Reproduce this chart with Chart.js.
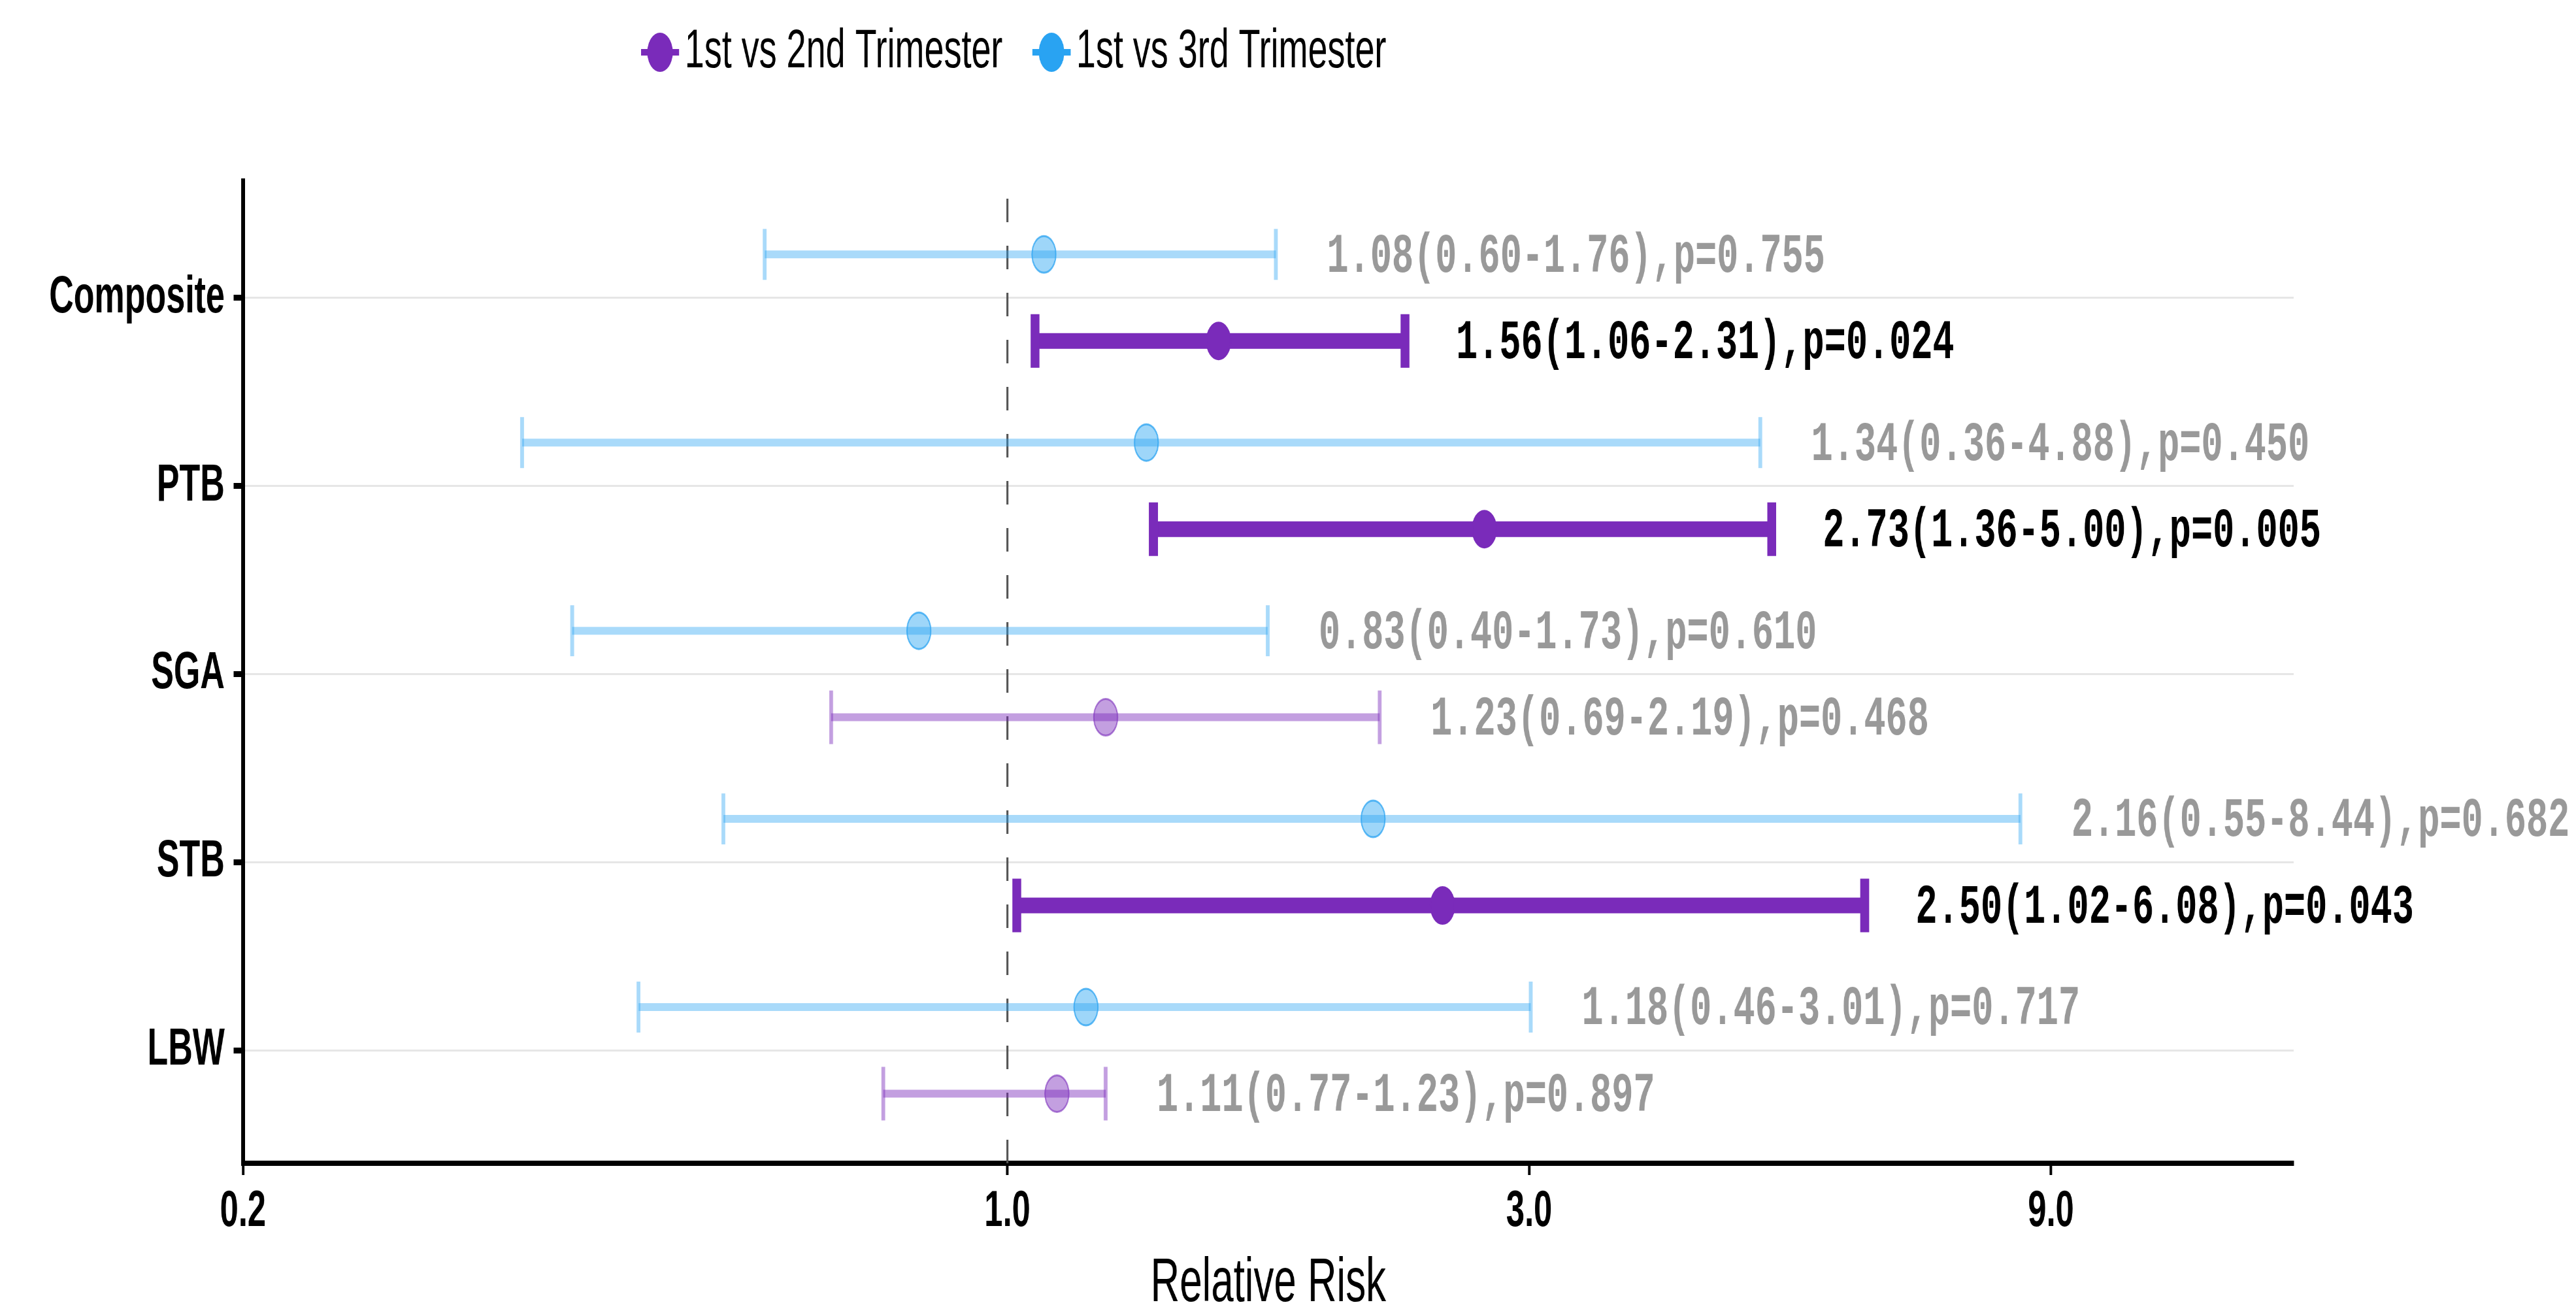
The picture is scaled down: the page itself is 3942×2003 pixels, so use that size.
<!DOCTYPE html>
<html>
<head>
<meta charset="utf-8">
<script src="https://cdn.jsdelivr.net/npm/chart.js@4.4.1/dist/chart.umd.min.js"></script>
<style>
  html, body { margin: 0; padding: 0; overflow: hidden; background: #fff; }
  #wrap { transform-origin: 0 0; }
  canvas { display: block; }
</style>
</head>
<body>
<div id="wrap"><canvas id="forest"></canvas></div>
<script>
// outcomes, top to bottom
const categories = ['Composite', 'PTB', 'SGA', 'STB', 'LBW'];

// 1st vs 2nd trimester
const rr2 = [1.56, 2.73, 1.23, 2.50, 1.11];
const lo2 = [1.06, 1.36, 0.69, 1.02, 0.77];
const hi2 = [2.31, 5.00, 2.19, 6.08, 1.23];
const p2 = [0.024, 0.005, 0.468, 0.043, 0.897];

// 1st vs 3rd trimester
const rr3 = [1.08, 1.34, 0.83, 2.16, 1.18];
const lo3 = [0.60, 0.36, 0.40, 0.55, 0.46];
const hi3 = [1.76, 4.88, 1.73, 8.44, 3.01];
const p3 = [0.755, 0.450, 0.610, 0.682, 0.717];

const xTicks = [0.2, 1, 3, 9];
const seriesNames = ['1st vs 2nd Trimester', '1st vs 3rd Trimester'];

// the original picture is squeezed horizontally, so draw wide and squeeze
const S = 0.65;
const W = Math.round(3942 / S);
const H = 2003;

const PURPLE = 'rgb(122,43,186)';
const PURPLE_L = 'rgba(122,43,186,0.45)';
const BLUE = 'rgb(41,163,242)';
const BLUE_L = 'rgba(41,163,242,0.4)';

const ypos = categories.map((c, i) => categories.length - i);
const DODGE = 0.23;
const sig = p2.map(p => p < 0.05);

const canvas = document.getElementById('forest');
canvas.width = W;
canvas.height = H;
const wrap = document.getElementById('wrap');
wrap.style.width = W + 'px';
wrap.style.height = H + 'px';
wrap.style.transform = `scaleX(${3942 / W})`;

// segments with gaps between them
const segs = (lo, hi, dy, keep) => {
  const out = [];
  lo.forEach((v, i) => {
    if (keep && !keep(i)) return;
    out.push({ x: v, y: ypos[i] + dy }, { x: hi[i], y: ypos[i] + dy }, { x: null, y: null });
  });
  return out;
};
const ends = (lo, hi, dy) => lo.flatMap((v, i) => [{ x: v, y: ypos[i] + dy }, { x: hi[i], y: ypos[i] + dy }]);
const caps2 = ends(lo2, hi2, -DODGE);
const capSig = caps2.map((d, k) => sig[Math.floor(k / 2)]);

const labelPlugin = {
  id: 'rrLabels',
  afterDatasetsDraw(chart) {
    const { ctx, scales: { x, y } } = chart;
    ctx.save();
    ctx.font = 'bold 85px "Liberation Mono", "Courier New", monospace';
    ctx.textBaseline = 'middle';
    ctx.textAlign = 'left';
    const put = (rr, lo, hi, p, yv) => {
      ctx.fillStyle = p < 0.05 ? '#000000' : '#999999';
      const txt = `${rr.toFixed(2)}(${lo.toFixed(2)}-${hi.toFixed(2)}),p=${p.toFixed(3)}`;
      ctx.fillText(txt, x.getPixelForValue(hi) + 120, y.getPixelForValue(yv) + 5);
    };
    categories.forEach((c, i) => {
      put(rr3[i], lo3[i], hi3[i], p3[i], ypos[i] + DODGE);
      put(rr2[i], lo2[i], hi2[i], p2[i], ypos[i] - DODGE);
    });
    ctx.restore();
  },
};

const legendPlugin = {
  id: 'keyLegend',
  afterDraw(chart) {
    const { ctx } = chart;
    ctx.save();
    ctx.font = '83px "Liberation Sans", Arial, sans-serif';
    ctx.textBaseline = 'middle';
    ctx.textAlign = 'left';
    let x = 1554;
    const y = 80;
    [PURPLE, BLUE].forEach((col, i) => {
      ctx.fillStyle = col;
      ctx.fillRect(x - 45, y - 5, 90, 10);
      ctx.beginPath();
      ctx.arc(x, y, 30, 0, Math.PI * 2);
      ctx.fill();
      ctx.fillStyle = '#000';
      ctx.fillText(seriesNames[i], x + 58, y);
      x += 58 + ctx.measureText(seriesNames[i]).width + 115;
    });
    ctx.restore();
  },
};

new Chart(canvas, {
  type: 'scatter',
  data: {
    datasets: [
      {
        label: seriesNames[1],
        data: rr3.map((v, i) => ({ x: v, y: ypos[i] + DODGE })),
        pointRadius: 28,
        pointBackgroundColor: 'rgba(41,163,242,0.45)',
        pointBorderColor: 'rgba(41,163,242,0.75)',
        pointBorderWidth: 3,
        order: 0,
      },
      {
        label: seriesNames[0],
        data: rr2.map((v, i) => ({ x: v, y: ypos[i] - DODGE })),
        pointRadius: 28,
        pointBackgroundColor: sig.map(s => (s ? PURPLE : PURPLE_L)),
        pointBorderColor: sig.map(s => (s ? PURPLE : 'rgba(122,43,186,0.6)')),
        pointBorderWidth: 3,
        order: 0,
      },
      {
        // whisker caps
        data: ends(lo3, hi3, DODGE),
        pointStyle: 'line',
        rotation: 90,
        pointRadius: 39,
        pointBorderWidth: 9,
        pointBorderColor: BLUE_L,
        order: 1,
      },
      {
        data: caps2,
        pointStyle: 'line',
        rotation: 90,
        pointRadius: 41,
        pointBorderWidth: capSig.map(s => (s ? 21 : 9)),
        pointBorderColor: capSig.map(s => (s ? PURPLE : PURPLE_L)),
        order: 1,
      },
      {
        // CI lines
        data: segs(lo3, hi3, DODGE),
        showLine: true,
        spanGaps: false,
        borderColor: BLUE_L,
        borderWidth: 12,
        pointRadius: 0,
        order: 2,
      },
      {
        data: segs(lo2, hi2, -DODGE, i => sig[i]),
        showLine: true,
        spanGaps: false,
        borderColor: PURPLE,
        borderWidth: 24,
        pointRadius: 0,
        order: 2,
      },
      {
        data: segs(lo2, hi2, -DODGE, i => !sig[i]),
        showLine: true,
        spanGaps: false,
        borderColor: PURPLE_L,
        borderWidth: 12,
        pointRadius: 0,
        order: 2,
      },
      {
        // reference line RR = 1
        data: [{ x: 1, y: 0.4 }, { x: 1, y: 5.62 }],
        showLine: true,
        borderColor: '#555555',
        borderWidth: 5,
        borderDash: [36, 36],
        pointRadius: 0,
        order: 3,
      },
    ],
  },
  options: {
    responsive: false,
    devicePixelRatio: 1,
    animation: false,
    events: [],
    layout: { padding: { left: 0, top: 277, right: W - 5400, bottom: 0 } },
    plugins: {
      legend: { display: false },
      tooltip: { enabled: false },
    },
    scales: {
      x: {
        type: 'logarithmic',
        min: 0.2,
        max: 15,
        afterBuildTicks: (axis) => {
          axis.ticks = xTicks.map(v => ({ value: v }));
        },
        afterFit: (axis) => {
          axis.height = H - 1780;
        },
        ticks: {
          callback: (v) => Number(v).toFixed(1),
          font: { family: '"Liberation Sans", Arial, sans-serif', size: 78, weight: 'bold' },
          color: '#000',
          padding: 10,
          maxRotation: 0,
          autoSkip: false,
        },
        grid: {
          drawOnChartArea: false,
          tickLength: 18,
          tickColor: '#000',
          tickWidth: 6,
        },
        border: { color: '#000', width: 8 },
        title: {
          display: true,
          text: 'Relative Risk',
          color: '#000',
          font: { family: '"Liberation Sans", Arial, sans-serif', size: 95, lineHeight: 0.8 },
          padding: 0,
        },
      },
      y: {
        type: 'linear',
        min: 0.4,
        max: 5.62,
        afterBuildTicks: (axis) => {
          axis.ticks = ypos.map(v => ({ value: v }));
        },
        afterFit: (axis) => {
          axis.width = 572;
        },
        ticks: {
          callback: (v) => categories[ypos.indexOf(v)],
          font: { family: '"Liberation Sans", Arial, sans-serif', size: 80, weight: 'bold' },
          color: '#000',
          padding: 21,
        },
        grid: {
          color: '#e6e6e6',
          lineWidth: 3,
          tickLength: 22,
          tickColor: '#000',
          tickWidth: 9,
        },
        border: { color: '#000', width: 9 },
      },
    },
  },
  plugins: [labelPlugin, legendPlugin],
});
</script>
</body>
</html>
